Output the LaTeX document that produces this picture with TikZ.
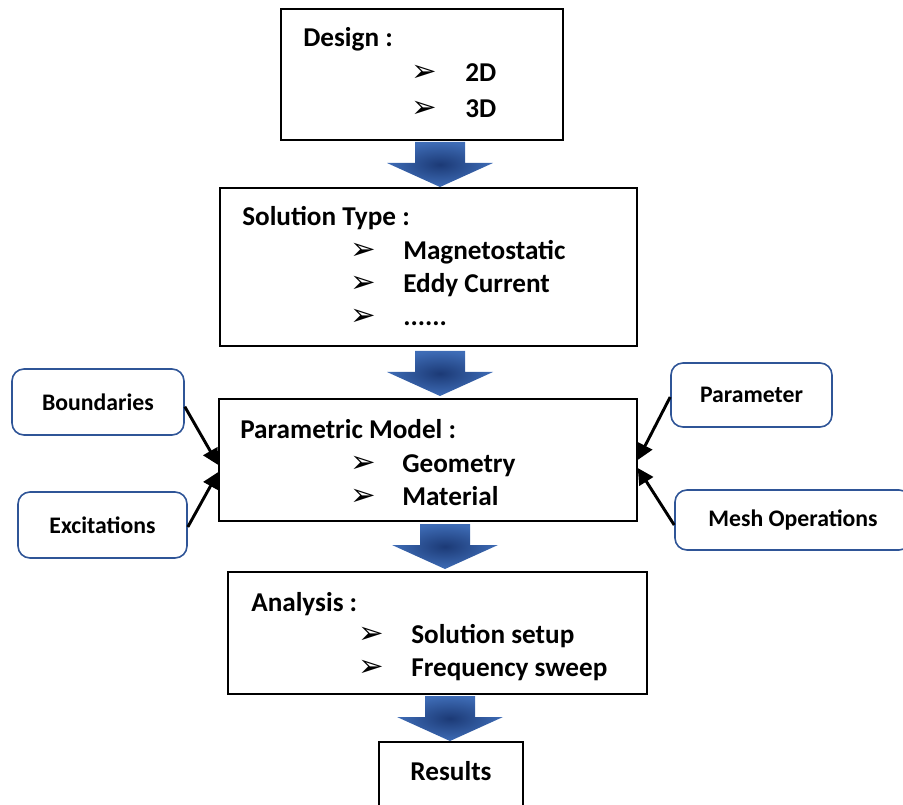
\documentclass[tikz,border=0pt]{standalone}
\usepackage{fontspec}
\setmainfont{Carlito}
\newfontfamily\symfont{DejaVu Sans}
\usetikzlibrary{arrows.meta,calc}

\definecolor{frameblue}{RGB}{47,85,151}
\definecolor{arrowdark}{RGB}{28,58,118}
\definecolor{arrowlight}{RGB}{62,108,182}

\tikzset{
  x=0.75pt, y=-0.75pt,
  every node/.style={font=\bfseries\fontsize{20.4pt}{24pt}\selectfont},
  mainbox/.style={draw=black, line width=1.1pt, rectangle, inner sep=0pt},
  sidebox/.style={draw=frameblue, line width=1.2pt, rectangle, rounded corners=9pt,
                  inner sep=0pt, font=\bfseries\fontsize{17.8pt}{20pt}\selectfont},
  label/.style={anchor=base west, inner sep=0pt},
  bullet/.style={anchor=base west, inner sep=0pt, font=\symfont\fontsize{23pt}{23pt}\selectfont},
  feed/.style={line width=2.2pt, -{Triangle[length=12pt,width=12pt]}},
  pics/blockarrow/.style={code={
    \shade[inner color=arrowdark, outer color=arrowlight]
      (-25,0) -- (25,0) -- (25,21) -- (53,21) -- (0,45) -- (-53,21) -- (-25,21) -- cycle;
  }}
}

\begin{document}
\begin{tikzpicture}
\useasboundingbox (0,0) rectangle (903,805);

% main flow boxes
\node[mainbox, minimum width=211.5pt, minimum height=98.25pt] (design) at (422,74.5) {};
\node[mainbox, minimum width=312.75pt, minimum height=118.5pt] (solution) at (428.5,267) {};
\node[mainbox, minimum width=313.5pt, minimum height=91.5pt] (param) at (428,460) {};
\node[mainbox, minimum width=314.25pt, minimum height=91.5pt] (analysis) at (437.5,633) {};
\node[mainbox, minimum width=108pt, minimum height=60pt] (results) at (451,782) {};

% box contents
\node[label] (designhead) at (303,47) {Design :};
\node[bullet] (b1) at (411,82) {➢};
\node[label] (d2) at (465,82) {2D};
\node[bullet] (b2) at (411,118) {➢};
\node[label] (d3) at (465,118) {3D};

\node[label] (solhead) at (242,226) {Solution Type :};
\node[bullet] (b3) at (350,260) {➢};
\node[label] (s1) at (403,260) {Magnetostatic};
\node[bullet] (b4) at (350,293) {➢};
\node[label] (s2) at (403,293) {Eddy Current};
\node[bullet] (b5) at (350,326) {➢};
\node[label] (s3) at (403,326) {......};

\node[label] (parhead) at (240,438) {Parametric Model :};
\node[bullet] (b6) at (350,472) {➢};
\node[label] (p1) at (402,472) {Geometry};
\node[bullet] (b7) at (350,505) {➢};
\node[label] (p2) at (402,505) {Material};

\node[label] (anhead) at (251,611) {Analysis :};
\node[bullet] (b8) at (358,643) {➢};
\node[label] (a1) at (411,643) {Solution setup};
\node[bullet] (b9) at (358,676) {➢};
\node[label] (a2) at (411,676) {Frequency sweep};

\node[label, anchor=base] (restext) at (451,780) {Results};

% side inputs
\node[sidebox, minimum width=129pt, minimum height=49.5pt] (bound) at (98,402) {Boundaries};
\node[sidebox, minimum width=126.75pt, minimum height=49.5pt] (excit) at (102.5,525) {Excitations};
\node[sidebox, minimum width=120.75pt, minimum height=48pt] (paramtr) at (751.5,395) {Parameter};
\node[sidebox, minimum width=177pt, minimum height=45pt] (mesh) at (793,520) {Mesh Operations};

\draw[feed] ([yshift=-3.5pt]bound.east) -- ([yshift=-3.75pt]param.west);
\draw[feed] ([yshift=-1.5pt]excit.east) -- ([yshift=-9pt]param.west);
\draw[feed] ([yshift=-1.5pt]paramtr.west) -- (param.east);
\draw[feed] ([yshift=-3.75pt]mesh.west) -- ([yshift=-6pt]param.east);

% block arrows between stages
\pic at (440,142) {blockarrow};
\pic at (440,351) {blockarrow};
\pic at (445,524) {blockarrow};
\pic at (450,696) {blockarrow};
\end{tikzpicture}
\end{document}
